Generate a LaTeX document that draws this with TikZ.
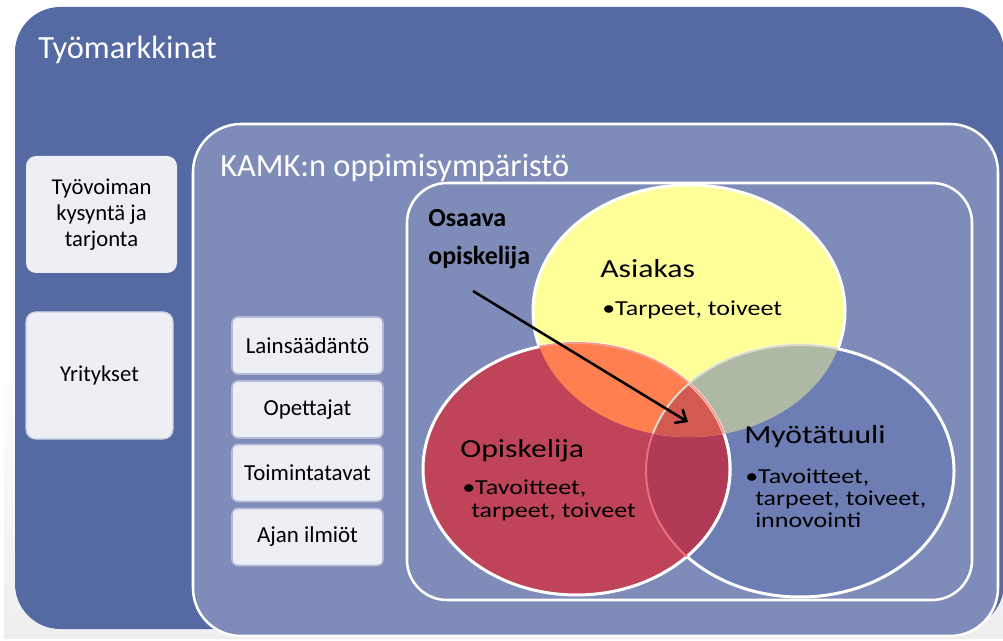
\documentclass[tikz,border=0pt]{standalone}
\usepackage{fontspec}
\setmainfont{Carlito}
\newfontfamily\vennfont[FakeStretch=1.22]{Carlito}
\usetikzlibrary{arrows.meta}
\definecolor{outerblue}{HTML}{5569A2}
\definecolor{kamkblue}{HTML}{7F8CB9}
\definecolor{boxfill}{HTML}{EEEFF4}
\definecolor{boxedge}{HTML}{B4BBD8}
\definecolor{vyellow}{HTML}{FFFF99}
\definecolor{vred}{HTML}{BF4459}
\definecolor{vblue}{HTML}{6D7EB5}
\definecolor{vorange}{HTML}{FF7F50}
\definecolor{vgreen}{HTML}{ADB8A5}
\definecolor{vredblue}{HTML}{B13A57}
\definecolor{vtriple}{HTML}{D35A50}
\definecolor{pinkline}{HTML}{F49A8C}
\definecolor{lightline}{HTML}{D8DCC8}
\definecolor{rosaline}{HTML}{E8707E}
\definecolor{shadowgrey}{HTML}{EEEEEE}
\begin{document}
\begin{tikzpicture}[x=0.75pt,y=-0.75pt,
  lbox/.style={fill=boxfill, rounded corners=7.5pt, align=center, inner sep=0pt,
    font=\fontsize{17}{19.5}\selectfont, text=black},
  mbox/.style={draw=boxedge, line width=1.2pt, fill=boxfill, rounded corners=4.5pt,
    minimum width=151*0.75pt, minimum height=57*0.75pt, inner sep=0pt,
    font=\fontsize{17.2}{19.5}\selectfont, text=black},
  title/.style={anchor=base west, inner sep=0pt, text=white},
  vhead/.style={anchor=base west, inner sep=0pt, text=black, font=\vennfont\fontsize{19.5}{23}\selectfont},
  vtext/.style={anchor=base west, inner sep=0pt, text=black, font=\vennfont\fontsize{16}{19}\selectfont},
  ring/.style={draw=white, line width=2.25pt},
  frame/.style={draw=white, line width=1.9pt, fill=kamkblue},
]
\useasboundingbox (0,0) rectangle (1003,641);
\fill[white] (0,0) rectangle (1003,641);
% soft shadow behind the containers
\shade[top color=white, bottom color=shadowgrey] (4,360) rectangle (1003,641);
\fill[white] (0,639) rectangle (1003,641);
% outer container
\fill[outerblue, rounded corners=34pt] (15,7) rectangle (1004,629);
\node[title, font=\fontsize{24.3}{28}\selectfont] (tm) at (38,59) {Työmarkkinat};
% KAMK container
\draw[frame, rounded corners=36pt] (193,124) rectangle (998,636);
\node[title, font=\fontsize{24.3}{28}\selectfont] (kamk) at (220,177) {KAMK:n oppimisympäristö};
% inner container
\draw[frame, rounded corners=30pt] (407,183) rectangle (972,600);
% left boxes
\node[lbox, minimum width=151*0.75pt, minimum height=117*0.75pt] (tyov) at (101.5,214.5) {Työvoiman\\kysyntä ja\\tarjonta};
\node[lbox, draw=boxedge!60!boxfill, line width=1pt, minimum width=147*0.75pt, minimum height=127*0.75pt] (yrit) at (99.5,375.5) {Yritykset};
% middle boxes
\node[mbox] (lain) at (307.5,345.5) {Lainsäädäntö};
\node[mbox] (opet) at (307.5,409.5) {Opettajat};
\node[mbox] (toim) at (307.5,473) {Toimintatavat};
\node[mbox] (ajan) at (307.5,537) {Ajan ilmiöt};
% Venn diagram
\fill[vyellow] (689,311) ellipse [x radius=156, y radius=126];
\draw[ring] (689,311) ellipse [x radius=156, y radius=126];
\filldraw[fill=vblue, ring] (800,471) ellipse [x radius=154, y radius=126];
\filldraw[fill=vred, ring] (576.5,469) ellipse [x radius=153.5, y radius=126];
\begin{scope}
  \clip (576.5,469) ellipse [x radius=153.5, y radius=126];
  \fill[vredblue] (800,471) ellipse [x radius=154, y radius=126];
\end{scope}
\begin{scope}
  \clip (689,311) ellipse [x radius=156, y radius=126];
  \fill[vorange] (576.5,469) ellipse [x radius=153.5, y radius=126];
  \fill[vgreen] (800,471) ellipse [x radius=154, y radius=126];
  \clip (576.5,469) ellipse [x radius=153.5, y radius=126];
  \fill[vtriple] (800,471) ellipse [x radius=154, y radius=126];
\end{scope}
\begin{scope}
  \clip (800,471) ellipse [x radius=154, y radius=126];
  \draw[ring] (576.5,469) ellipse [x radius=153.5, y radius=126];
\end{scope}
\begin{scope}
  \clip (576.5,469) ellipse [x radius=153.5, y radius=126];
  \draw[rosaline, line width=1.5pt] (800,471) ellipse [x radius=154, y radius=126];
\end{scope}
\begin{scope}
  \clip (689,311) ellipse [x radius=156, y radius=126];
  \draw[pinkline, line width=1.5pt] (576.5,469) ellipse [x radius=153.5, y radius=126];
  \draw[lightline, line width=1.5pt] (800,471) ellipse [x radius=154, y radius=126];
\end{scope}
% Venn texts
\node[vhead] (asiakas) at (600,278) {Asiakas};
\node[vtext] (asi1) at (602,316) {•Tarpeet, toiveet};
\node[vhead] (opisk) at (460,457) {Opiskelija};
\node[vtext] (opi1) at (462,494) {•Tavoitteet,};
\node[vtext] (opi2) at (471,517) {tarpeet, toiveet};
\node[vhead] (myot) at (744,444) {Myötätuuli};
\node[vtext] (myo1) at (745,483) {•Tavoitteet,};
\node[vtext] (myo2) at (755,505) {tarpeet, toiveet,};
\node[vtext] (myo3) at (755,527) {innovointi};
% Osaava opiskelija
\node[anchor=base west, inner sep=0pt, font=\bfseries\fontsize{19.5}{23}\selectfont] (osa1) at (428,227) {Osaava};
\node[anchor=base west, inner sep=0pt, font=\bfseries\fontsize{19.5}{23}\selectfont] (osa2) at (428,265) {opiskelija};
\coordinate (arrS) at (473,291);
\coordinate (arrE) at (688,422);
\draw[line width=1.9pt, -{Straight Barb[length=7pt,width=12pt,line width=1.9pt]}] (arrS) -- (arrE);
\end{tikzpicture}
\end{document}
